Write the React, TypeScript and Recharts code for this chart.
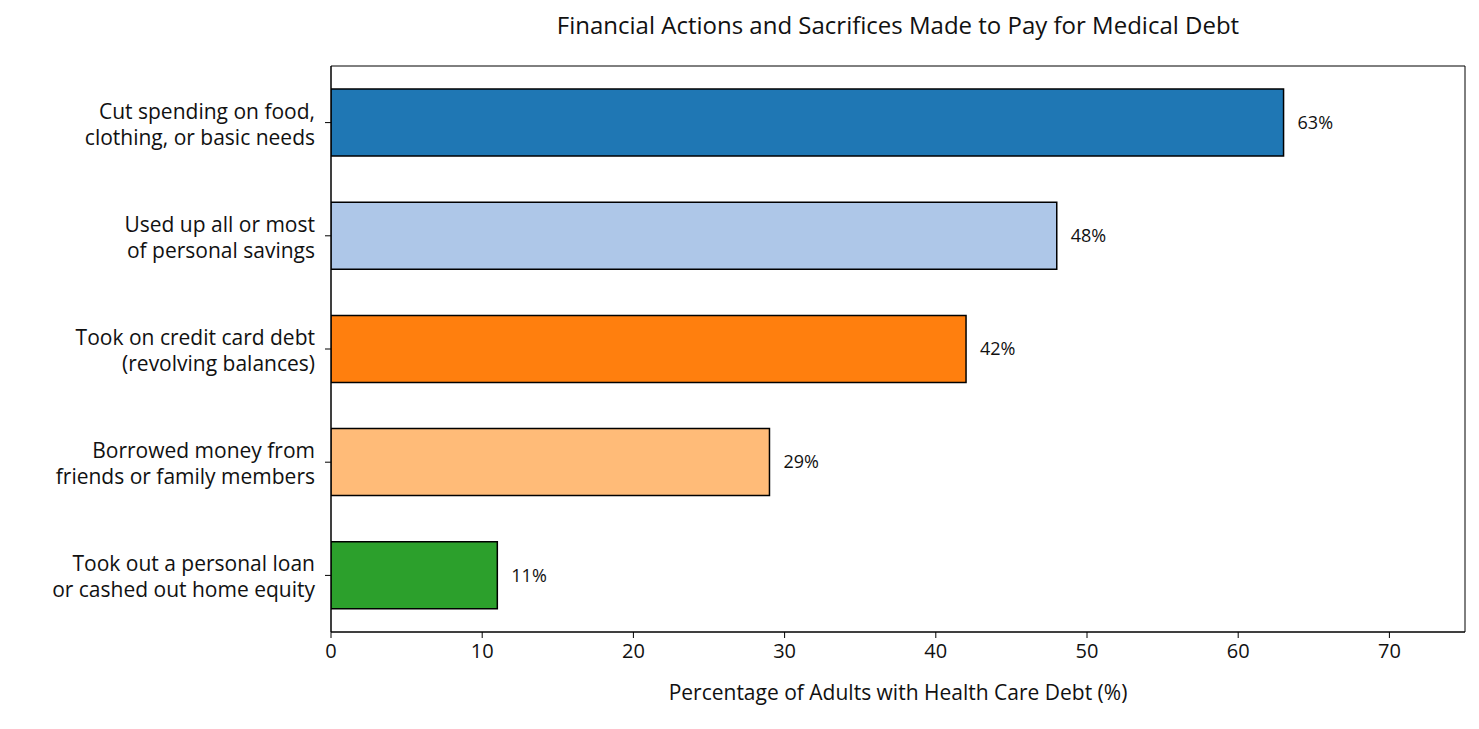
import React from "react";
import { BarChart, Bar, XAxis, YAxis, Cell, LabelList, ReferenceArea } from "recharts";

const categories = [
  "Cut spending on food,\nclothing, or basic needs",
  "Used up all or most\nof personal savings",
  "Took on credit card debt\n(revolving balances)",
  "Borrowed money from\nfriends or family members",
  "Took out a personal loan\nor cashed out home equity",
];
const values = [63, 48, 42, 29, 11];
const colors = ["#1f77b4", "#aec7e8", "#ff7f0e", "#ffbb78", "#2ca02c"];
const xTicks = [0, 10, 20, 30, 40, 50, 60, 70];

const data = categories.map((c, i) => ({ name: c, value: values[i] }));
const FONT = "'Open Sans', Inter, sans-serif";

const YTick = (props: any) => {
  const { x, y, payload } = props;
  const lines = String(payload.value).split("\n");
  return (
    <g>
      <text x={x - 8} y={y} textAnchor="end" fontFamily={FONT} fontSize={21} fill="#111">
        {lines.map((l, i) => (
          <tspan key={i} x={x - 8} dy={i === 0 ? -4 : 26}>{l}</tspan>
        ))}
      </text>
    </g>
  );
};

export default function App() {
  return (
    <div style={{ position: "absolute", left: 0, top: 0, width: 1479, height: 729, background: "#fff" }}>
      <div style={{ position: "absolute", top: 8, left: 0, width: 1796, textAlign: "center", fontFamily: FONT, fontSize: 24, color: "#111" }}>
        Financial Actions and Sacrifices Made to Pay for Medical Debt
      </div>
      <BarChart width={1479} height={729} data={data} layout="vertical"
        margin={{ top: 66, right: 14, bottom: 67, left: 0 }} barCategoryGap="20%">
        <XAxis type="number" domain={[0, 75]} ticks={xTicks} allowDataOverflow height={30}
          stroke="#000" tickSize={6} tick={{ fontFamily: FONT, fontSize: 20, fill: "#111", dy: 4 }}
          label={{ value: "Percentage of Adults with Health Care Debt (%)", position: "insideBottom", offset: -38, fontFamily: FONT, fontSize: 21, fill: "#111" }} />
        <YAxis type="category" dataKey="name" width={331} stroke="#000" tickSize={6} tick={<YTick />} interval={0} />
        <ReferenceArea x1={0} x2={75} fill="none" stroke="#000" strokeWidth={1} ifOverflow="visible" />
        <Bar dataKey="value" isAnimationActive={false} stroke="#000" strokeWidth={1.5} barSize={67}>
          {data.map((d, i) => <Cell key={i} fill={colors[i]} />)}
          <LabelList dataKey="value" position="right" offset={14} formatter={(v: any) => `${v}%`}
            style={{ fontFamily: FONT, fontSize: 18, fill: "#111" }} />
        </Bar>
      </BarChart>
    </div>
  );
}
